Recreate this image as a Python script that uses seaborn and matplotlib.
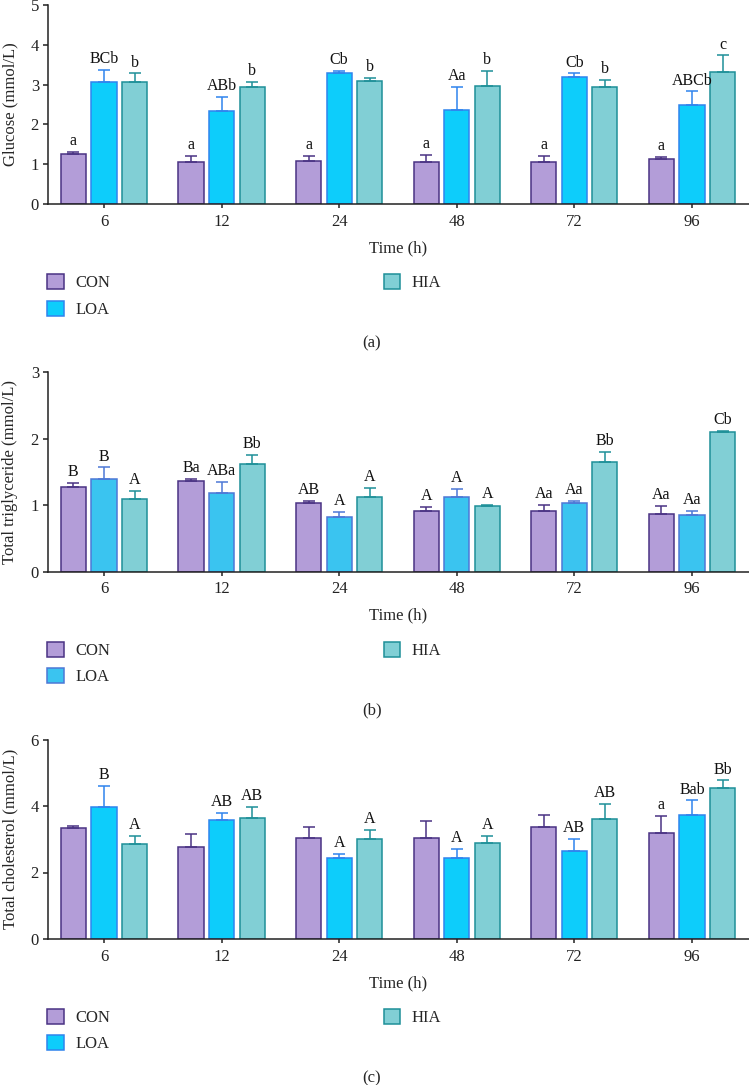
import pandas as pd
import matplotlib.pyplot as plt
import seaborn as sns
from matplotlib.patches import Patch

times = ['6', '12', '24', '48', '72', '96']
groups = ['CON', 'LOA', 'HIA']

# (a) glucose
glu_mean = {'CON': [1.25, 1.07, 1.09, 1.07, 1.05, 1.14],
            'LOA': [3.06, 2.33, 3.29, 2.36, 3.20, 2.48],
            'HIA': [3.06, 2.95, 3.08, 2.96, 2.94, 3.32]}
glu_sd = {'CON': [0.07, 0.14, 0.12, 0.17, 0.16, 0.05],
          'LOA': [0.30, 0.37, 0.05, 0.59, 0.08, 0.35],
          'HIA': [0.22, 0.12, 0.09, 0.39, 0.17, 0.41]}
glu_lab = {'CON': ['a', 'a', 'a', 'a', 'a', 'a'],
           'LOA': ['BCb', 'ABb', 'Cb', 'Aa', 'Cb', 'ABCb'],
           'HIA': ['b', 'b', 'b', 'b', 'b', 'c']}

# (b) total triglyceride
tg_mean = {'CON': [1.27, 1.36, 1.03, 0.92, 0.92, 0.87],
           'LOA': [1.40, 1.18, 0.83, 1.12, 1.03, 0.86],
           'HIA': [1.10, 1.62, 1.12, 0.99, 1.65, 2.10]}
tg_sd = {'CON': [0.06, 0.04, 0.04, 0.06, 0.09, 0.12],
         'LOA': [0.17, 0.17, 0.07, 0.12, 0.03, 0.05],
         'HIA': [0.11, 0.14, 0.14, 0.02, 0.15, 0.02]}
tg_lab = {'CON': ['B', 'Ba', 'AB', 'A', 'Aa', 'Aa'],
          'LOA': ['B', 'ABa', 'A', 'A', 'Aa', 'Aa'],
          'HIA': ['A', 'Bb', 'A', 'A', 'Bb', 'Cb']}

# (c) total cholesterol
tc_mean = {'CON': [3.35, 2.78, 3.03, 3.05, 3.38, 3.18],
           'LOA': [3.98, 3.59, 2.45, 2.45, 2.66, 3.73],
           'HIA': [2.85, 3.65, 3.01, 2.89, 3.62, 4.54]}
tc_sd = {'CON': [0.06, 0.39, 0.33, 0.50, 0.35, 0.53],
         'LOA': [0.63, 0.21, 0.10, 0.27, 0.36, 0.44],
         'HIA': [0.24, 0.33, 0.27, 0.22, 0.45, 0.23]}
tc_lab = {'CON': ['', '', '', '', '', 'a'],
          'LOA': ['B', 'AB', 'A', 'A', 'AB', 'Bab'],
          'HIA': ['A', 'AB', 'A', 'A', 'AB', 'Bb']}

sns.set_style('ticks')
plt.rcParams['font.family'] = ['Liberation Serif', 'DejaVu Serif']

fills_ac = ['#b39dd8', '#0dcdfb', '#81cfd5']
edges_ac = ['#4a3384', '#2f84ee', '#1e9098']
fills_b = ['#b39dd8', '#3ac4f0', '#81cfd5']
edges_b = ['#4a3384', '#4d78d6', '#1e9098']

panels = [
    ('Glucose (mmol/L)', glu_mean, glu_sd, glu_lab, 5, [0, 1, 2, 3, 4, 5], fills_ac, edges_ac, 204.3, '(a)'),
    ('Total triglyceride (mmol/L)', tg_mean, tg_sd, tg_lab, 3, [0, 1, 2, 3], fills_b, edges_b, 571.7, '(b)'),
    ('Total cholesterol (mmol/L)', tc_mean, tc_sd, tc_lab, 6, [0, 2, 4, 6], fills_ac, edges_ac, 939.0, '(c)'),
]

W, H = 749, 1085
fig = plt.figure(figsize=(W / 100, H / 100), dpi=100)
FS = 12

for ylabel, means, sds, labs, ymax, yt, fills, edges, zero_px, tag in panels:
    ax_h = 199.5
    ax = fig.add_axes([48 / W, 1 - zero_px / H, 701 / W, ax_h / H])
    df = pd.DataFrame([(t, g, means[g][i]) for g in groups for i, t in enumerate(times)],
                      columns=['Time', 'Group', 'Value'])
    sns.barplot(data=df, x='Time', y='Value', hue='Group', order=times, hue_order=groups,
                palette=fills, width=0.78, gap=0.18, errorbar=None, saturation=1,
                linewidth=1.1, legend=False, ax=ax)
    for gi, g in enumerate(groups):
        for i, bar in enumerate(ax.containers[gi]):
            bar.set_edgecolor(edges[gi])
            x = bar.get_x() + bar.get_width() / 2
            y = bar.get_height()
            ax.errorbar(x, y, yerr=[[0], [sds[g][i]]], fmt='none', ecolor=edges[gi],
                        elinewidth=1.1, capsize=4, capthick=1.1, zorder=1)
            ax.annotate(labs[g][i], (x, y + sds[g][i]), xytext=(0, 2), textcoords='offset points',
                        ha='center', va='bottom', fontsize=11.5, color='#111111')
    ax.set_xlim(-0.476, 5.485)
    ax.set_ylim(0, ymax)
    ax.set_yticks(yt)
    sns.despine(ax=ax)
    for s in ['left', 'bottom']:
        ax.spines[s].set_linewidth(1.1)
        ax.spines[s].set_color('#222222')
    ax.tick_params(axis='both', labelsize=FS, colors='#222222', width=1.1)
    ax.tick_params(axis='y', length=3.5, pad=3)
    ax.tick_params(axis='x', length=3, pad=4)
    ax.set_xlabel('Time (h)', fontsize=FS)
    ax.xaxis.set_label_coords(0.5, -44 / ax_h)
    ax.xaxis.label.set_va('center')
    ax.set_ylabel(ylabel, fontsize=FS)
    ax.yaxis.set_label_coords(-38 / 701, 0.5)
    ax.yaxis.label.set_va('center')

    handles = [Patch(facecolor=fills[k], edgecolor=edges[k], linewidth=1.1, label=groups[k])
               for k in range(3)]
    fig.legend(handles=handles, loc='upper left', bbox_to_anchor=(47 / W, 1 - (zero_px + 70) / H),
               ncol=2, frameon=False, fontsize=FS, borderpad=0, borderaxespad=0,
               handlelength=1.0, handleheight=1.0, handletextpad=0.7,
               labelspacing=0.55, columnspacing=16.4)
    fig.text(372 / W, 1 - (zero_px + 139) / H, tag, ha='center', va='center', fontsize=FS)

fig.savefig('out.png', dpi=100)
